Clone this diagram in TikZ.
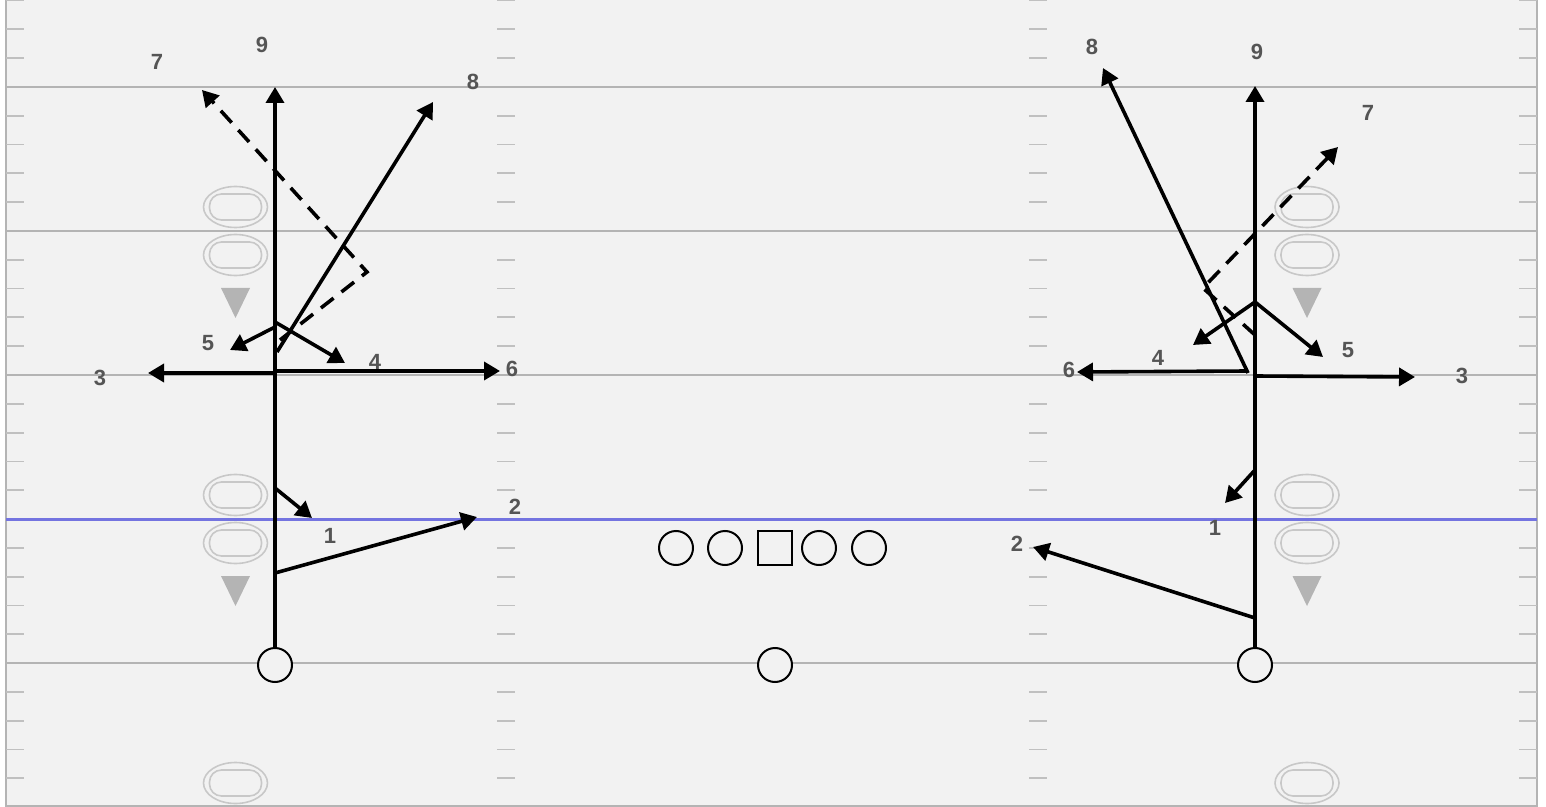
\documentclass[tikz,border=0pt]{standalone}
\usepackage{fontspec}
\setmainfont{Liberation Sans}
\usepackage{tikz}
\usetikzlibrary{arrows.meta}

\definecolor{turf}{HTML}{F2F2F2}
\definecolor{yardline}{HTML}{B4B4B4}
\definecolor{hashgray}{HTML}{C0C0C0}
\definecolor{numgray}{HTML}{C8C8C8}
\definecolor{losblue}{HTML}{7474E0}
\definecolor{labelgray}{HTML}{555555}

\tikzset{
  route/.style={line width=1.8pt, -{Triangle[length=8pt,width=9pt]}},
  optroute/.style={route, dash pattern=on 8pt off 5pt},
  player/.style={circle, draw, line width=1pt, fill=turf, minimum size=17pt, inner sep=0pt},
  snapper/.style={rectangle, draw, line width=1pt, fill=turf, minimum size=17pt, inner sep=0pt},
  rlabel/.style={text=labelgray, font=\bfseries\fontsize{11}{13}\selectfont, inner sep=0pt},
}

\begin{document}
\begin{tikzpicture}[x=0.5pt, y=-0.5pt]
    \useasboundingbox[fill=white] (0,0) rectangle (1546,807);

    % the field
    \fill[turf] (6,-2) rectangle (1537,806);
    \draw[yardline, line width=1pt] (6,-2) -- (6,806) -- (1537,806) -- (1537,-2);

    % field numbers and direction arrows
    \foreach \x in {235.5,1307} {
      \foreach \y in {207,255,495,543,783} {
        \draw[numgray, line width=0.8pt] (\x,\y) ellipse (32 and 20.5);
        \draw[numgray, line width=0.8pt, rounded corners=6pt] (\x-26,\y-13) rectangle (\x+26,\y+13);
      };
      \foreach \y in {288,576} {
        \fill[numgray!90!black] (\x-14.5,\y) -- (\x+14.5,\y) -- (\x,\y+30) -- cycle;
      };
    };

    % yard lines
    \foreach \y in {87,231,375,663} {
      \draw[yardline, line width=1pt] (6,\y) -- (1537,\y);
    };

    % hash marks, one every yard
    \foreach \b in {-57,87,231,375,519,663} {
      \foreach \j in {1,...,4} {
        \foreach \x/\w in {6/24,497/515,1029/1047,1519/1537} {
          \draw[hashgray, line width=0.9pt] (\x,\b+28.8*\j) -- (\w,\b+28.8*\j);
        };
      };
    };

    % line of scrimmage
    \draw[losblue, line width=1.5pt] (6,519) -- (1537,519);

    % players
    \node[player] (lwr) at (275,665) {};
    \node[player] (rwr) at (1255,665) {};
    \node[player] (qb)  at (775,665) {};
    \node[player] (lt)  at (676,548) {};
    \node[player] (lg)  at (725,548) {};
    \node[snapper] (c)  at (775,548) {};
    \node[player] (rg)  at (819,548) {};
    \node[player] (rt)  at (869,548) {};

    % left route tree
    \coordinate (l9) at (275,87);
    \coordinate (l1s) at (275,488);  \coordinate (l1) at (312,518);
    \coordinate (l2s) at (275,573);  \coordinate (l2) at (477,517);
    \coordinate (l3s) at (275,373);  \coordinate (l3) at (148,373);
    \coordinate (l6s) at (275,371);  \coordinate (l6) at (500,371);
    \coordinate (l4s) at (275,322);  \coordinate (l4) at (345,363);
    \coordinate (l5s) at (275,327);  \coordinate (l5) at (230,350);
    \coordinate (l8s) at (277,352);  \coordinate (l8) at (433,102);
    \coordinate (l7s) at (280,340);  \coordinate (l7b) at (367,272);
    \coordinate (l7) at (202,90);

    \draw[route] (lwr) -- (l9);
    \foreach \r in {1,2,3,4,5,6,8} {
      \draw[route] (l\r s) -- (l\r);
    };
    \draw[optroute] (l7s) -- (l7b) -- (l7);

    \node[rlabel] (l9t) at (262,45) {9};
    \node[rlabel] (l7t) at (157,62) {7};
    \node[rlabel] (l8t) at (473,82) {8};
    \node[rlabel] (l5t) at (208,343) {5};
    \node[rlabel] (l4t) at (375,362) {4};
    \node[rlabel] (l3t) at (100,378) {3};
    \node[rlabel] (l6t) at (512,369) {6};
    \node[rlabel] (l1t) at (330,536) {1};
    \node[rlabel] (l2t) at (515,507) {2};

    % right route tree
    \coordinate (r9) at (1255,86);
    \coordinate (r1s) at (1255,470);  \coordinate (r1) at (1225,503);
    \coordinate (r2s) at (1255,618);  \coordinate (r2) at (1033,547);
    \coordinate (r3s) at (1255,376);  \coordinate (r3) at (1415,377);
    \coordinate (r6s) at (1248,371);  \coordinate (r6) at (1077,372);
    \coordinate (r4s) at (1255,302);  \coordinate (r4) at (1193,345);
    \coordinate (r5s) at (1255,302);  \coordinate (r5) at (1323,357);
    \coordinate (r8s) at (1248,373);  \coordinate (r8) at (1103,68);
    \coordinate (r7s) at (1255,335);  \coordinate (r7b) at (1203,288);
    \coordinate (r7) at (1338,147);

    \draw[route] (rwr) -- (r9);
    \foreach \r in {1,2,3,4,5,6,8} {
      \draw[route] (r\r s) -- (r\r);
    };
    \draw[optroute] (r7s) -- (r7b) -- (r7);

    \node[rlabel] (r8t) at (1092,47) {8};
    \node[rlabel] (r9t) at (1257,52) {9};
    \node[rlabel] (r7t) at (1368,113) {7};
    \node[rlabel] (r4t) at (1158,358) {4};
    \node[rlabel] (r5t) at (1348,350) {5};
    \node[rlabel] (r6t) at (1069,370) {6};
    \node[rlabel] (r3t) at (1462,376) {3};
    \node[rlabel] (r1t) at (1215,528) {1};
    \node[rlabel] (r2t) at (1017,544) {2};
\end{tikzpicture}
\end{document}
